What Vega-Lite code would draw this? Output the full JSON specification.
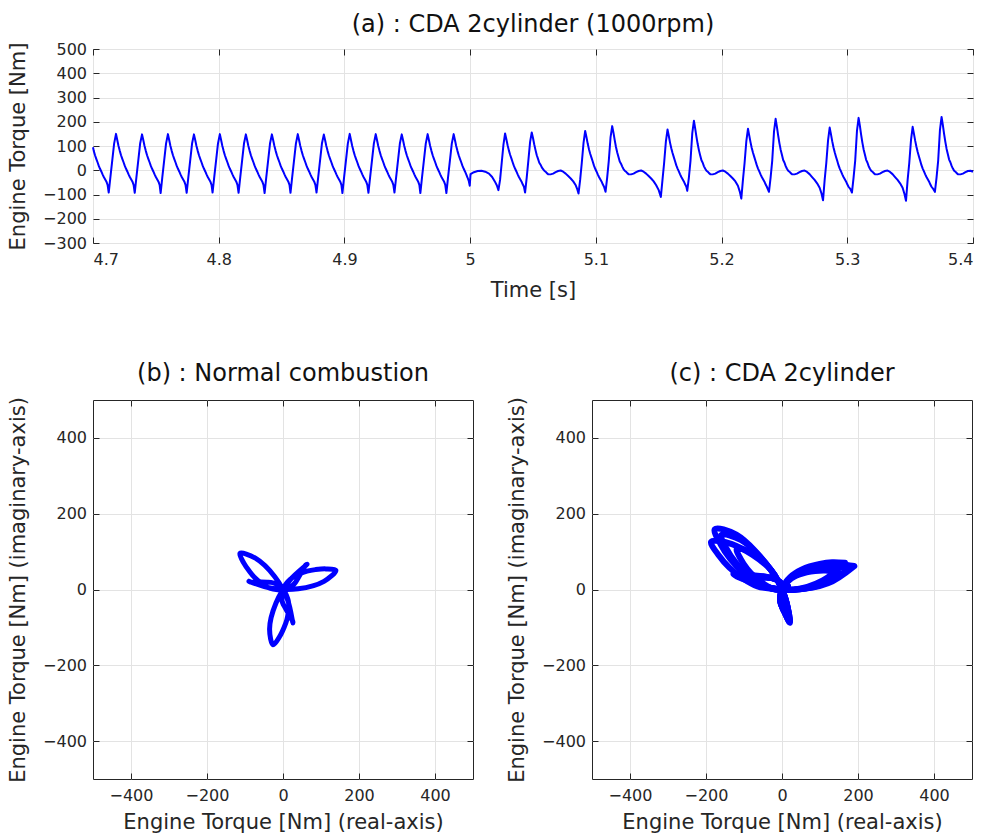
{
"$schema": "https://vega.github.io/schema/vega-lite/v6.json",
"padding": {"left": 7, "top": 12, "right": 8, "bottom": 2},
"config": {
  "font": "DejaVu Sans",
  "view": {"stroke": "#262626", "strokeWidth": 1},
  "axis": {"domain": false, "grid": true, "gridColor": "#e3e3e3", "tickColor": "#262626", "tickSize": -6, "labelPadding": 12.5, "labelFontSize": 16, "labelColor": "#262626", "titleFontSize": 21, "titleFontWeight": "normal", "titleColor": "#262626"},
  "axisX": {"labelPadding": 14},
  "title": {"fontSize": 24, "fontWeight": "normal", "color": "#111111", "offset": 4},
  "line": {"color": "#0000ff"}
},
"datasets": {
"ts": [
{"t":4.7,"v":95},{"t":4.7006,"v":80},{"t":4.7016,"v":62},{"t":4.7026,"v":47},{"t":4.7036,"v":33},{"t":4.7046,"v":18},{"t":4.7056,"v":6},{"t":4.7066,"v":-5},{"t":4.7076,"v":-17},{"t":4.7086,"v":-28},{"t":4.7096,"v":-37},{"t":4.7106,"v":-46},{"t":4.7116,"v":-60},
{"t":4.7125,"v":-92},{"t":4.7138,"v":-30},{"t":4.7153,"v":40},{"t":4.7168,"v":110},{"t":4.7183,"v":150},{"t":4.7193,"v":125},{"t":4.7203,"v":100},{"t":4.7213,"v":80},{"t":4.7223,"v":62},{"t":4.7233,"v":47},{"t":4.7243,"v":33},{"t":4.7253,"v":18},{"t":4.7263,"v":6},{"t":4.7273,"v":-5},{"t":4.7283,"v":-17},{"t":4.7293,"v":-28},{"t":4.7303,"v":-37},{"t":4.7313,"v":-46},{"t":4.7323,"v":-60},
{"t":4.7332,"v":-93},{"t":4.7345,"v":-30},{"t":4.736,"v":40},{"t":4.7375,"v":110},{"t":4.739,"v":148},{"t":4.74,"v":125},{"t":4.741,"v":100},{"t":4.742,"v":80},{"t":4.743,"v":62},{"t":4.744,"v":47},{"t":4.745,"v":33},{"t":4.746,"v":18},{"t":4.747,"v":6},{"t":4.748,"v":-5},{"t":4.749,"v":-17},{"t":4.75,"v":-28},{"t":4.751,"v":-37},{"t":4.752,"v":-46},{"t":4.753,"v":-60},
{"t":4.7538,"v":-94},{"t":4.7551,"v":-30},{"t":4.7566,"v":40},{"t":4.7581,"v":110},{"t":4.7596,"v":149},{"t":4.7606,"v":125},{"t":4.7616,"v":100},{"t":4.7626,"v":80},{"t":4.7636,"v":62},{"t":4.7646,"v":47},{"t":4.7656,"v":33},{"t":4.7666,"v":18},{"t":4.7676,"v":6},{"t":4.7686,"v":-5},{"t":4.7696,"v":-17},{"t":4.7706,"v":-28},{"t":4.7716,"v":-37},{"t":4.7726,"v":-46},{"t":4.7736,"v":-60},
{"t":4.7745,"v":-93},{"t":4.7758,"v":-30},{"t":4.7773,"v":40},{"t":4.7788,"v":110},{"t":4.7803,"v":148},{"t":4.7813,"v":125},{"t":4.7823,"v":100},{"t":4.7833,"v":80},{"t":4.7843,"v":62},{"t":4.7853,"v":47},{"t":4.7863,"v":33},{"t":4.7873,"v":18},{"t":4.7883,"v":6},{"t":4.7893,"v":-5},{"t":4.7903,"v":-17},{"t":4.7913,"v":-28},{"t":4.7923,"v":-37},{"t":4.7933,"v":-46},{"t":4.7943,"v":-60},
{"t":4.7951,"v":-92},{"t":4.7964,"v":-30},{"t":4.7979,"v":40},{"t":4.7994,"v":110},{"t":4.8009,"v":149},{"t":4.8019,"v":125},{"t":4.8029,"v":100},{"t":4.8039,"v":80},{"t":4.8049,"v":62},{"t":4.8059,"v":47},{"t":4.8069,"v":33},{"t":4.8079,"v":18},{"t":4.8089,"v":6},{"t":4.8099,"v":-5},{"t":4.8109,"v":-17},{"t":4.8119,"v":-28},{"t":4.8129,"v":-37},{"t":4.8139,"v":-46},{"t":4.8149,"v":-60},
{"t":4.8158,"v":-93},{"t":4.8171,"v":-30},{"t":4.8186,"v":40},{"t":4.8201,"v":110},{"t":4.8216,"v":148},{"t":4.8226,"v":125},{"t":4.8236,"v":100},{"t":4.8246,"v":80},{"t":4.8256,"v":62},{"t":4.8266,"v":47},{"t":4.8276,"v":33},{"t":4.8286,"v":18},{"t":4.8296,"v":6},{"t":4.8306,"v":-5},{"t":4.8316,"v":-17},{"t":4.8326,"v":-28},{"t":4.8336,"v":-37},{"t":4.8346,"v":-46},{"t":4.8356,"v":-60},
{"t":4.8365,"v":-94},{"t":4.8378,"v":-30},{"t":4.8393,"v":40},{"t":4.8408,"v":110},{"t":4.8423,"v":148},{"t":4.8433,"v":125},{"t":4.8443,"v":100},{"t":4.8453,"v":80},{"t":4.8463,"v":62},{"t":4.8473,"v":47},{"t":4.8483,"v":33},{"t":4.8493,"v":18},{"t":4.8503,"v":6},{"t":4.8513,"v":-5},{"t":4.8523,"v":-17},{"t":4.8533,"v":-28},{"t":4.8543,"v":-37},{"t":4.8553,"v":-46},{"t":4.8563,"v":-60},
{"t":4.8571,"v":-93},{"t":4.8584,"v":-30},{"t":4.8599,"v":40},{"t":4.8614,"v":110},{"t":4.8629,"v":149},{"t":4.8639,"v":125},{"t":4.8649,"v":100},{"t":4.8659,"v":80},{"t":4.8669,"v":62},{"t":4.8679,"v":47},{"t":4.8689,"v":33},{"t":4.8699,"v":18},{"t":4.8709,"v":6},{"t":4.8719,"v":-5},{"t":4.8729,"v":-17},{"t":4.8739,"v":-28},{"t":4.8749,"v":-37},{"t":4.8759,"v":-46},{"t":4.8769,"v":-60},
{"t":4.8778,"v":-92},{"t":4.8791,"v":-30},{"t":4.8806,"v":40},{"t":4.8821,"v":110},{"t":4.8836,"v":147},{"t":4.8846,"v":125},{"t":4.8856,"v":100},{"t":4.8866,"v":80},{"t":4.8876,"v":62},{"t":4.8886,"v":47},{"t":4.8896,"v":33},{"t":4.8906,"v":18},{"t":4.8916,"v":6},{"t":4.8926,"v":-5},{"t":4.8936,"v":-17},{"t":4.8946,"v":-28},{"t":4.8956,"v":-37},{"t":4.8966,"v":-46},{"t":4.8976,"v":-60},
{"t":4.8984,"v":-94},{"t":4.8997,"v":-30},{"t":4.9012,"v":40},{"t":4.9027,"v":110},{"t":4.9042,"v":150},{"t":4.9052,"v":125},{"t":4.9062,"v":100},{"t":4.9072,"v":80},{"t":4.9082,"v":62},{"t":4.9092,"v":47},{"t":4.9102,"v":33},{"t":4.9112,"v":18},{"t":4.9122,"v":6},{"t":4.9132,"v":-5},{"t":4.9142,"v":-17},{"t":4.9152,"v":-28},{"t":4.9162,"v":-37},{"t":4.9172,"v":-46},{"t":4.9182,"v":-60},
{"t":4.9191,"v":-93},{"t":4.9204,"v":-30},{"t":4.9219,"v":40},{"t":4.9234,"v":110},{"t":4.9249,"v":149},{"t":4.9259,"v":125},{"t":4.9269,"v":100},{"t":4.9279,"v":80},{"t":4.9289,"v":62},{"t":4.9299,"v":47},{"t":4.9309,"v":33},{"t":4.9319,"v":18},{"t":4.9329,"v":6},{"t":4.9339,"v":-5},{"t":4.9349,"v":-17},{"t":4.9359,"v":-28},{"t":4.9369,"v":-37},{"t":4.9379,"v":-46},{"t":4.9389,"v":-60},
{"t":4.9398,"v":-92},{"t":4.9411,"v":-30},{"t":4.9426,"v":40},{"t":4.9441,"v":110},{"t":4.9456,"v":148},{"t":4.9466,"v":125},{"t":4.9476,"v":100},{"t":4.9486,"v":80},{"t":4.9496,"v":62},{"t":4.9506,"v":47},{"t":4.9516,"v":33},{"t":4.9526,"v":18},{"t":4.9536,"v":6},{"t":4.9546,"v":-5},{"t":4.9556,"v":-17},{"t":4.9566,"v":-28},{"t":4.9576,"v":-37},{"t":4.9586,"v":-46},{"t":4.9596,"v":-60},
{"t":4.9604,"v":-94},{"t":4.9617,"v":-30},{"t":4.9632,"v":40},{"t":4.9647,"v":110},{"t":4.9662,"v":149},{"t":4.9672,"v":125},{"t":4.9682,"v":100},{"t":4.9692,"v":80},{"t":4.9702,"v":62},{"t":4.9712,"v":47},{"t":4.9722,"v":33},{"t":4.9732,"v":18},{"t":4.9742,"v":6},{"t":4.9752,"v":-5},{"t":4.9762,"v":-17},{"t":4.9772,"v":-28},{"t":4.9782,"v":-37},{"t":4.9792,"v":-46},{"t":4.9802,"v":-60},
{"t":4.9811,"v":-94},{"t":4.9824,"v":-30},{"t":4.9839,"v":40},{"t":4.9854,"v":110},{"t":4.9869,"v":149},{"t":4.9879,"v":125},{"t":4.9889,"v":100},{"t":4.9899,"v":80},{"t":4.9909,"v":62},{"t":4.9919,"v":47},{"t":4.9929,"v":33},{"t":4.9939,"v":18},{"t":4.9949,"v":6},{"t":4.9959,"v":-5},{"t":4.9969,"v":-17},{"t":4.9979,"v":-30},{"t":4.9989,"v":-44},{"t":4.9997,"v":-64},
{"t":5.0003,"v":-16},{"t":5.003,"v":-8},{"t":5.006,"v":-3},{"t":5.009,"v":-2},{"t":5.012,"v":-6},{"t":5.015,"v":-14},{"t":5.0175,"v":-28},{"t":5.0195,"v":-45},{"t":5.0212,"v":-62},{"t":5.0225,"v":-82},{"t":5.0238,"v":-40},{"t":5.0251,"v":30},{"t":5.0265,"v":106},
{"t":5.0278,"v":152},{"t":5.0288,"v":128},{"t":5.0298,"v":103},{"t":5.0308,"v":82},{"t":5.0318,"v":64},{"t":5.0328,"v":49},{"t":5.0338,"v":33},{"t":5.0348,"v":18},{"t":5.0358,"v":6},{"t":5.0368,"v":-5},{"t":5.0378,"v":-17},{"t":5.0388,"v":-28},{"t":5.0398,"v":-37},{"t":5.0408,"v":-46},{"t":5.0418,"v":-58},{"t":5.0428,"v":-68},{"t":5.0437,"v":-92},{"t":5.045,"v":-30},{"t":5.0463,"v":40},{"t":5.0477,"v":117},
{"t":5.049,"v":156},{"t":5.05,"v":133},{"t":5.051,"v":106},{"t":5.052,"v":83},{"t":5.053,"v":62},{"t":5.054,"v":47},{"t":5.055,"v":31},{"t":5.056,"v":23},{"t":5.057,"v":12},{"t":5.058,"v":5},{"t":5.059,"v":-2},{"t":5.06,"v":-6},{"t":5.061,"v":-12},{"t":5.062,"v":-16},{"t":5.064,"v":-17},{"t":5.066,"v":-14},{"t":5.068,"v":-8},{"t":5.07,"v":-3},{"t":5.072,"v":-1},{"t":5.074,"v":-6},{"t":5.076,"v":-14},{"t":5.078,"v":-24},{"t":5.08,"v":-34},{"t":5.082,"v":-46},{"t":5.084,"v":-62},{"t":5.0852,"v":-78},{"t":5.0862,"v":-96},{"t":5.0875,"v":-40},{"t":5.0888,"v":30},{"t":5.0902,"v":113},
{"t":5.0915,"v":162},{"t":5.0925,"v":137},{"t":5.0935,"v":110},{"t":5.0945,"v":87},{"t":5.0955,"v":68},{"t":5.0965,"v":52},{"t":5.0975,"v":36},{"t":5.0985,"v":19},{"t":5.0995,"v":6},{"t":5.1005,"v":-5},{"t":5.1015,"v":-17},{"t":5.1025,"v":-28},{"t":5.1035,"v":-37},{"t":5.1045,"v":-46},{"t":5.1055,"v":-58},{"t":5.1065,"v":-68},{"t":5.1077,"v":-89},{"t":5.109,"v":-30},{"t":5.1103,"v":40},{"t":5.1117,"v":137},
{"t":5.113,"v":182},{"t":5.114,"v":155},{"t":5.115,"v":124},{"t":5.116,"v":96},{"t":5.117,"v":73},{"t":5.118,"v":55},{"t":5.119,"v":36},{"t":5.12,"v":27},{"t":5.121,"v":15},{"t":5.122,"v":5},{"t":5.123,"v":-2},{"t":5.124,"v":-6},{"t":5.125,"v":-12},{"t":5.126,"v":-16},{"t":5.128,"v":-17},{"t":5.13,"v":-14},{"t":5.132,"v":-8},{"t":5.134,"v":-3},{"t":5.136,"v":-1},{"t":5.138,"v":-6},{"t":5.14,"v":-14},{"t":5.142,"v":-24},{"t":5.144,"v":-34},{"t":5.146,"v":-46},{"t":5.148,"v":-62},{"t":5.15,"v":-82},{"t":5.1517,"v":-110},{"t":5.153,"v":-40},{"t":5.1543,"v":30},{"t":5.1557,"v":118},
{"t":5.157,"v":168},{"t":5.158,"v":142},{"t":5.159,"v":114},{"t":5.16,"v":91},{"t":5.161,"v":71},{"t":5.162,"v":54},{"t":5.163,"v":37},{"t":5.164,"v":20},{"t":5.165,"v":7},{"t":5.166,"v":-5},{"t":5.167,"v":-17},{"t":5.168,"v":-28},{"t":5.169,"v":-37},{"t":5.17,"v":-46},{"t":5.171,"v":-58},{"t":5.172,"v":-68},{"t":5.1727,"v":-85},{"t":5.174,"v":-30},{"t":5.1753,"v":40},{"t":5.1767,"v":153},
{"t":5.178,"v":204},{"t":5.179,"v":173},{"t":5.18,"v":139},{"t":5.181,"v":108},{"t":5.182,"v":82},{"t":5.183,"v":61},{"t":5.184,"v":41},{"t":5.185,"v":31},{"t":5.186,"v":16},{"t":5.187,"v":6},{"t":5.188,"v":-2},{"t":5.189,"v":-6},{"t":5.19,"v":-12},{"t":5.191,"v":-16},{"t":5.193,"v":-17},{"t":5.195,"v":-14},{"t":5.197,"v":-8},{"t":5.199,"v":-3},{"t":5.201,"v":-1},{"t":5.203,"v":-6},{"t":5.205,"v":-14},{"t":5.207,"v":-24},{"t":5.209,"v":-34},{"t":5.211,"v":-46},{"t":5.213,"v":-64},{"t":5.2145,"v":-88},{"t":5.2157,"v":-117},{"t":5.217,"v":-40},{"t":5.2183,"v":30},{"t":5.2197,"v":120},
{"t":5.221,"v":171},{"t":5.222,"v":144},{"t":5.223,"v":116},{"t":5.224,"v":92},{"t":5.225,"v":72},{"t":5.226,"v":55},{"t":5.227,"v":38},{"t":5.228,"v":21},{"t":5.229,"v":7},{"t":5.23,"v":-5},{"t":5.231,"v":-17},{"t":5.232,"v":-28},{"t":5.233,"v":-37},{"t":5.234,"v":-46},{"t":5.235,"v":-58},{"t":5.236,"v":-68},{"t":5.2377,"v":-89},{"t":5.239,"v":-30},{"t":5.2403,"v":40},{"t":5.2417,"v":159},
{"t":5.243,"v":212},{"t":5.244,"v":180},{"t":5.245,"v":144},{"t":5.246,"v":112},{"t":5.247,"v":85},{"t":5.248,"v":64},{"t":5.249,"v":42},{"t":5.25,"v":32},{"t":5.251,"v":17},{"t":5.252,"v":6},{"t":5.253,"v":-2},{"t":5.254,"v":-6},{"t":5.255,"v":-12},{"t":5.256,"v":-16},{"t":5.258,"v":-17},{"t":5.26,"v":-14},{"t":5.262,"v":-8},{"t":5.264,"v":-3},{"t":5.266,"v":-1},{"t":5.268,"v":-7},{"t":5.27,"v":-16},{"t":5.272,"v":-28},{"t":5.274,"v":-40},{"t":5.276,"v":-54},{"t":5.278,"v":-72},{"t":5.2795,"v":-96},{"t":5.2807,"v":-124},{"t":5.282,"v":-40},{"t":5.2833,"v":30},{"t":5.2847,"v":123},
{"t":5.286,"v":176},{"t":5.287,"v":149},{"t":5.288,"v":120},{"t":5.289,"v":95},{"t":5.29,"v":74},{"t":5.291,"v":56},{"t":5.292,"v":39},{"t":5.293,"v":21},{"t":5.294,"v":7},{"t":5.295,"v":-5},{"t":5.296,"v":-17},{"t":5.297,"v":-28},{"t":5.298,"v":-37},{"t":5.299,"v":-46},{"t":5.3,"v":-58},{"t":5.301,"v":-68},{"t":5.3025,"v":-78},{"t":5.3037,"v":-92},{"t":5.305,"v":-30},{"t":5.3063,"v":40},{"t":5.3077,"v":162},
{"t":5.309,"v":216},{"t":5.31,"v":184},{"t":5.311,"v":147},{"t":5.312,"v":114},{"t":5.313,"v":86},{"t":5.314,"v":65},{"t":5.315,"v":43},{"t":5.316,"v":32},{"t":5.317,"v":17},{"t":5.318,"v":6},{"t":5.319,"v":-2},{"t":5.32,"v":-6},{"t":5.321,"v":-12},{"t":5.322,"v":-16},{"t":5.324,"v":-17},{"t":5.326,"v":-14},{"t":5.328,"v":-8},{"t":5.33,"v":-3},{"t":5.332,"v":-1},{"t":5.334,"v":-7},{"t":5.336,"v":-16},{"t":5.338,"v":-28},{"t":5.34,"v":-40},{"t":5.342,"v":-54},{"t":5.344,"v":-72},{"t":5.3455,"v":-98},{"t":5.3467,"v":-126},{"t":5.348,"v":-40},{"t":5.3493,"v":30},{"t":5.3507,"v":125},
{"t":5.352,"v":179},{"t":5.353,"v":151},{"t":5.354,"v":122},{"t":5.355,"v":97},{"t":5.356,"v":75},{"t":5.357,"v":57},{"t":5.358,"v":39},{"t":5.359,"v":21},{"t":5.36,"v":7},{"t":5.361,"v":-5},{"t":5.362,"v":-17},{"t":5.363,"v":-28},{"t":5.364,"v":-37},{"t":5.365,"v":-46},{"t":5.366,"v":-58},{"t":5.367,"v":-68},{"t":5.3685,"v":-78},{"t":5.3697,"v":-89},{"t":5.371,"v":-30},{"t":5.3723,"v":40},{"t":5.3737,"v":165},
{"t":5.375,"v":220},{"t":5.376,"v":187},{"t":5.377,"v":150},{"t":5.378,"v":117},{"t":5.379,"v":88},{"t":5.38,"v":66},{"t":5.381,"v":44},{"t":5.382,"v":33},{"t":5.383,"v":18},{"t":5.384,"v":7},{"t":5.385,"v":-2},{"t":5.386,"v":-6},{"t":5.387,"v":-12},{"t":5.388,"v":-16},{"t":5.39,"v":-17},{"t":5.392,"v":-14},{"t":5.394,"v":-8},{"t":5.396,"v":-3},{"t":5.398,"v":-2},{"t":5.4,"v":-6}
],
"b": [
{"i":1,"x":-89.4,"y":21.6},{"i":2,"x":-29.8,"y":3.2},{"i":3,"x":40.0,"y":1.8},{"i":4,"x":107.9,"y":21.6},{"i":5,"x":139.1,"y":50.6},{"i":6,"x":112.5,"y":54.4},{"i":7,"x":85.2,"y":52.4},{"i":8,"x":63.5,"y":48.6},{"i":9,"x":45.3,"y":42.4},{"i":10,"x":30.8,"y":35.5},{"i":11,"x":19.0,"y":27.0},{"i":12,"x":8.8,"y":15.7},{"i":13,"x":2.4,"y":5.5},{"i":14,"x":-1.5,"y":-4.8},{"i":15,"x":-3.5,"y":-16.6},{"i":16,"x":-3.0,"y":-27.8},{"i":17,"x":-0.3,"y":-37.0},{"i":18,"x":4.3,"y":-45.8},{"i":19,"x":11.6,"y":-58.9},{"i":20,"x":25.7,"y":-84.1},
{"i":21,"x":26.0,"y":-88.2},{"i":22,"x":12.1,"y":-27.4},{"i":23,"x":-21.6,"y":33.7},{"i":24,"x":-72.7,"y":82.6},{"i":25,"x":-113.4,"y":95.2},{"i":26,"x":-103.4,"y":70.2},{"i":27,"x":-88.0,"y":47.6},{"i":28,"x":-73.9,"y":30.7},{"i":29,"x":-59.4,"y":18.0},{"i":30,"x":-46.1,"y":8.9},{"i":31,"x":-32.9,"y":3.0},{"i":32,"x":-18.0,"y":-0.3},{"i":33,"x":-6.0,"y":-0.7},{"i":34,"x":4.9,"y":1.1},{"i":35,"x":16.1,"y":5.3},{"i":36,"x":25.6,"y":11.3},{"i":37,"x":32.2,"y":18.2},{"i":38,"x":37.5,"y":26.6},{"i":39,"x":45.2,"y":39.5},{"i":40,"x":60.0,"y":64.4},
{"i":41,"x":63.4,"y":66.6},{"i":42,"x":17.7,"y":24.2},{"i":43,"x":-18.4,"y":-35.5},{"i":44,"x":-35.3,"y":-104.2},{"i":45,"x":-25.8,"y":-145.8},{"i":46,"x":-9.2,"y":-124.6},{"i":47,"x":2.8,"y":-100.0},{"i":48,"x":10.3,"y":-79.3},{"i":49,"x":14.0,"y":-60.4},{"i":50,"x":15.3,"y":-44.5},{"i":51,"x":13.9,"y":-30.0},{"i":52,"x":9.2,"y":-15.5},{"i":53,"x":3.6,"y":-4.9},{"i":54,"x":-3.4,"y":3.7},{"i":55,"x":-12.6,"y":11.3},{"i":56,"x":-22.6,"y":16.5},{"i":57,"x":-31.9,"y":18.8},{"i":58,"x":-41.8,"y":19.2},{"i":59,"x":-56.8,"y":19.5},{"i":60,"x":-85.7,"y":19.8},{"i":61,"x":-89.4,"y":21.6}
],
"c": [
{"k":"m","i":1,"x":171.2,"y":55.6},{"k":"m","i":2,"x":137.5,"y":60.0},{"k":"m","i":3,"x":104.7,"y":58.7},{"k":"m","i":4,"x":77.9,"y":54.3},{"k":"m","i":5,"x":55.4,"y":47.5},{"k":"m","i":6,"x":38.1,"y":39.7},{"k":"m","i":7,"x":24.1,"y":30.7},{"k":"m","i":8,"x":12.4,"y":19.4},{"k":"m","i":9,"x":4.1,"y":8.0},{"k":"m","i":10,"x":-1.1,"y":-2.8},{"k":"m","i":11,"x":-4.3,"y":-15.4},{"k":"m","i":12,"x":-4.9,"y":-27.6},{"k":"m","i":13,"x":-2.9,"y":-37.9},{"k":"m","i":14,"x":1.1,"y":-48.0},{"k":"m","i":15,"x":7.6,"y":-61.6},{"k":"m","i":16,"x":19.2,"y":-85.9},{"k":"m","i":17,"x":7.2,"y":-18.7},{"k":"m","i":18,"x":-29.5,"y":52.2},{"k":"m","i":19,"x":-108.6,"y":130.7},{"k":"m","i":20,"x":-159.8,"y":143.9},{"k":"m","i":21,"x":-145.3,"y":106.4},{"k":"m","i":22,"x":-123.1,"y":72.8},{"k":"m","i":23,"x":-93.3,"y":41.2},{"k":"m","i":24,"x":-59.8,"y":16.5},{"k":"m","i":25,"x":-24.9,"y":1.8},{"k":"m","i":26,"x":0,"y":0},{"k":"m","i":27,"x":11.4,"y":3.8},{"k":"m","i":28,"x":15.6,"y":8.9},{"k":"m","i":29,"x":9.1,"y":7.9},{"k":"m","i":30,"x":1.8,"y":2.4},{"k":"m","i":31,"x":0,"y":0},{"k":"m","i":32,"x":0.5,"y":1.9},{"k":"m","i":33,"x":0.5,"y":8.0},{"k":"m","i":34,"x":-1.9,"y":14.9},{"k":"m","i":35,"x":-7.1,"y":20.8},{"k":"m","i":36,"x":-15,"y":26},{"k":"m","i":37,"x":-26.4,"y":30.0},{"k":"m","i":38,"x":-41.3,"y":31.6},{"k":"m","i":39,"x":-67.3,"y":33.2},{"k":"m","i":40,"x":-114.4,"y":36.5},{"k":"m","i":41,"x":-39.5,"y":6.4},{"k":"m","i":42,"x":30.0,"y":-0.4},{"k":"m","i":43,"x":109.0,"y":14.7},{"k":"m","i":44,"x":171.2,"y":55.6},
{"k":"h","i":1,"x":190.2,"y":61.8},{"k":"h","i":2,"x":152.8,"y":66.7},{"k":"h","i":3,"x":116.3,"y":65.2},{"k":"h","i":4,"x":86.5,"y":60.3},{"k":"h","i":5,"x":61.5,"y":52.8},{"k":"h","i":6,"x":42.3,"y":44.1},{"k":"h","i":7,"x":26.8,"y":34.1},{"k":"h","i":8,"x":13.8,"y":21.6},{"k":"h","i":9,"x":4.1,"y":8.0},{"k":"h","i":10,"x":-1.1,"y":-2.8},{"k":"h","i":11,"x":-4.3,"y":-15.4},{"k":"h","i":12,"x":-4.9,"y":-27.6},{"k":"h","i":13,"x":-2.9,"y":-37.9},{"k":"h","i":14,"x":1.1,"y":-48.0},{"k":"h","i":15,"x":7.6,"y":-61.6},{"k":"h","i":16,"x":21.0,"y":-88.0},{"k":"h","i":17,"x":7.2,"y":-18.7},{"k":"h","i":18,"x":-29.5,"y":52.2},{"k":"h","i":19,"x":-120.2,"y":144.7},{"k":"h","i":20,"x":-176.9,"y":159.3},{"k":"h","i":21,"x":-160.8,"y":117.8},{"k":"h","i":22,"x":-136.3,"y":80.6},{"k":"h","i":23,"x":-103.3,"y":45.6},{"k":"h","i":24,"x":-66.2,"y":18.3},{"k":"h","i":25,"x":-24.9,"y":1.8},{"k":"h","i":26,"x":0,"y":0},{"k":"h","i":27,"x":11.4,"y":3.8},{"k":"h","i":28,"x":15.6,"y":8.9},{"k":"h","i":29,"x":9.1,"y":7.9},{"k":"h","i":30,"x":1.8,"y":2.4},{"k":"h","i":31,"x":0,"y":0},{"k":"h","i":32,"x":0.5,"y":1.9},{"k":"h","i":33,"x":0.5,"y":8.0},{"k":"h","i":34,"x":-1.9,"y":14.9},{"k":"h","i":35,"x":-7.1,"y":20.8},{"k":"h","i":36,"x":-15,"y":26},{"k":"h","i":37,"x":-26.4,"y":30.0},{"k":"h","i":38,"x":-45.0,"y":34.5},{"k":"h","i":39,"x":-76.3,"y":37.6},{"k":"h","i":40,"x":-128.0,"y":40.5},{"k":"h","i":41,"x":-39.5,"y":6.4},{"k":"h","i":42,"x":30.0,"y":-0.4},{"k":"h","i":43,"x":121.1,"y":16.3},{"k":"h","i":44,"x":190.2,"y":61.8},
{"k":"l","i":1,"x":142.7,"y":46.3},{"k":"l","i":2,"x":114.6,"y":50.0},{"k":"l","i":3,"x":87.2,"y":48.9},{"k":"l","i":4,"x":64.9,"y":45.2},{"k":"l","i":5,"x":46.2,"y":39.6},{"k":"l","i":6,"x":31.7,"y":33.1},{"k":"l","i":7,"x":20.1,"y":25.6},{"k":"l","i":8,"x":10.3,"y":16.2},{"k":"l","i":9,"x":4.1,"y":8.0},{"k":"l","i":10,"x":-1.1,"y":-2.8},{"k":"l","i":11,"x":-4.3,"y":-15.4},{"k":"l","i":12,"x":-4.9,"y":-27.6},{"k":"l","i":13,"x":-2.9,"y":-37.9},{"k":"l","i":14,"x":1.1,"y":-48.0},{"k":"l","i":15,"x":7.6,"y":-61.6},{"k":"l","i":16,"x":18.5,"y":-82.0},{"k":"l","i":17,"x":7.2,"y":-18.7},{"k":"l","i":18,"x":-29.5,"y":52.2},{"k":"l","i":19,"x":-80.8,"y":97.2},{"k":"l","i":20,"x":-118.9,"y":107.1},{"k":"l","i":21,"x":-108.1,"y":79.2},{"k":"l","i":22,"x":-91.6,"y":54.2},{"k":"l","i":23,"x":-69.4,"y":30.7},{"k":"l","i":24,"x":-44.5,"y":12.3},{"k":"l","i":25,"x":-24.9,"y":1.8},{"k":"l","i":26,"x":0,"y":0},{"k":"l","i":27,"x":11.4,"y":3.8},{"k":"l","i":28,"x":15.6,"y":8.9},{"k":"l","i":29,"x":9.1,"y":7.9},{"k":"l","i":30,"x":1.8,"y":2.4},{"k":"l","i":31,"x":0,"y":0},{"k":"l","i":32,"x":0.5,"y":1.9},{"k":"l","i":33,"x":0.5,"y":8.0},{"k":"l","i":34,"x":-1.9,"y":14.9},{"k":"l","i":35,"x":-7.1,"y":20.8},{"k":"l","i":36,"x":-15,"y":26},{"k":"l","i":37,"x":-26.4,"y":30.0},{"k":"l","i":38,"x":-41.3,"y":31.6},{"k":"l","i":39,"x":-60.0,"y":29.6},{"k":"l","i":40,"x":-91.5,"y":29.2},{"k":"l","i":41,"x":-39.5,"y":6.4},{"k":"l","i":42,"x":30.0,"y":-0.4},{"k":"l","i":43,"x":90.8,"y":12.2},{"k":"l","i":44,"x":142.7,"y":46.3},
{"k":"w","i":1,"x":165.7,"y":70.3},{"k":"w","i":2,"x":131.7,"y":71.7},{"k":"w","i":3,"x":99.2,"y":67.6},{"k":"w","i":4,"x":72.9,"y":60.9},{"k":"w","i":5,"x":51.0,"y":52.1},{"k":"w","i":6,"x":34.5,"y":42.9},{"k":"w","i":7,"x":21.3,"y":32.7},{"k":"w","i":8,"x":10.7,"y":20.4},{"k":"w","i":9,"x":4.1,"y":8.0},{"k":"w","i":10,"x":-1.1,"y":-2.8},{"k":"w","i":11,"x":-4.3,"y":-15.4},{"k":"w","i":12,"x":-4.9,"y":-27.6},{"k":"w","i":13,"x":-2.9,"y":-37.9},{"k":"w","i":14,"x":1.1,"y":-48.0},{"k":"w","i":15,"x":7.6,"y":-61.6},{"k":"w","i":16,"x":20.0,"y":-84.0},{"k":"w","i":17,"x":7.2,"y":-18.7},{"k":"w","i":18,"x":-29.5,"y":52.2},{"k":"w","i":19,"x":-131.7,"y":119.8},{"k":"w","i":20,"x":-186.5,"y":125.8},{"k":"w","i":21,"x":-165.6,"y":88.9},{"k":"w","i":22,"x":-138.5,"y":57.6},{"k":"w","i":23,"x":-102.9,"y":29.1},{"k":"w","i":24,"x":-64.5,"y":8.4},{"k":"w","i":25,"x":-24.9,"y":1.8},{"k":"w","i":26,"x":0,"y":0},{"k":"w","i":27,"x":11.4,"y":3.8},{"k":"w","i":28,"x":15.6,"y":8.9},{"k":"w","i":29,"x":9.1,"y":7.9},{"k":"w","i":30,"x":1.8,"y":2.4},{"k":"w","i":31,"x":0,"y":0},{"k":"w","i":32,"x":0.5,"y":1.9},{"k":"w","i":33,"x":0.5,"y":8.0},{"k":"w","i":34,"x":-1.9,"y":14.9},{"k":"w","i":35,"x":-7.1,"y":20.8},{"k":"w","i":36,"x":-15,"y":26},{"k":"w","i":37,"x":-26.4,"y":30.0},{"k":"w","i":38,"x":-43.0,"y":33.0},{"k":"w","i":39,"x":-70.0,"y":35.0},{"k":"w","i":40,"x":-104.0,"y":33.0},{"k":"w","i":41,"x":-39.5,"y":6.4},{"k":"w","i":42,"x":30.0,"y":-0.4},{"k":"w","i":43,"x":107.3,"y":24.1},{"k":"w","i":44,"x":165.7,"y":70.3}
]
},
"vconcat": [
{
  "width": 880, "height": 194,
  "title": {"text": "(a) : CDA 2cylinder (1000rpm)"},
  "data": {"name": "ts"},
  "layer": [
    {"mark": {"type": "line", "strokeWidth": 2, "strokeJoin": "round"},
     "encoding": {
       "x": {"field": "t", "type": "quantitative", "scale": {"domain": [4.7, 5.4], "nice": false, "zero": false}, "axis": {"title": "Time [s]", "values": [4.7, 4.8, 4.9, 5.0, 5.1, 5.2, 5.3, 5.4], "format": "~g", "titlePadding": 12}},
       "y": {"field": "v", "type": "quantitative", "scale": {"domain": [-300, 500], "nice": false}, "axis": {"title": "Engine Torque [Nm]", "values": [-300, -200, -100, 0, 100, 200, 300, 400, 500], "titlePadding": 14}}
     }},
    {"mark": {"type": "line", "opacity": 0},
     "encoding": {
       "x": {"field": "t", "type": "quantitative", "axis": {"orient": "top", "labels": false, "title": null, "grid": false, "values": [4.7, 4.8, 4.9, 5.0, 5.1, 5.2, 5.3, 5.4]}},
       "y": {"field": "v", "type": "quantitative", "axis": {"orient": "right", "labels": false, "title": null, "grid": false, "values": [-300, -200, -100, 0, 100, 200, 300, 400, 500]}}
     }}
  ],
  "resolve": {"axis": {"x": "independent", "y": "independent"}}
},
{
  "hconcat": [
    {
      "width": 380, "height": 379,
      "title": {"text": "(b) : Normal combustion", "offset": 11},
      "data": {"name": "b"},
      "layer": [
        {"mark": {"type": "line", "strokeWidth": 5, "strokeJoin": "round", "strokeCap": "round", "interpolate": "catmull-rom"},
         "encoding": {
           "x": {"field": "x", "type": "quantitative", "scale": {"domain": [-500, 500], "nice": false}, "axis": {"title": "Engine Torque [Nm] (real-axis)", "values": [-400, -200, 0, 200, 400], "titlePadding": 8}},
           "y": {"field": "y", "type": "quantitative", "scale": {"domain": [-500, 500], "nice": false}, "axis": {"title": "Engine Torque [Nm] (imaginary-axis)", "values": [-400, -200, 0, 200, 400], "titlePadding": 14}},
           "order": {"field": "i", "type": "quantitative"}
         }},
        {"mark": {"type": "line", "opacity": 0},
         "encoding": {
           "x": {"field": "x", "type": "quantitative", "axis": {"orient": "top", "labels": false, "title": null, "grid": false, "values": [-400, -200, 0, 200, 400]}},
           "y": {"field": "y", "type": "quantitative", "axis": {"orient": "right", "labels": false, "title": null, "grid": false, "values": [-400, -200, 0, 200, 400]}},
           "order": {"field": "i", "type": "quantitative"}
         }}
      ],
      "resolve": {"axis": {"x": "independent", "y": "independent"}}
    },
    {
      "width": 380, "height": 379,
      "title": {"text": "(c) : CDA 2cylinder", "offset": 11},
      "data": {"name": "c"},
      "layer": [
        {"mark": {"type": "line", "strokeWidth": 6, "strokeJoin": "round", "strokeCap": "round", "interpolate": "catmull-rom"},
         "encoding": {
           "x": {"field": "x", "type": "quantitative", "scale": {"domain": [-500, 500], "nice": false}, "axis": {"title": "Engine Torque [Nm] (real-axis)", "values": [-400, -200, 0, 200, 400], "titlePadding": 8}},
           "y": {"field": "y", "type": "quantitative", "scale": {"domain": [-500, 500], "nice": false}, "axis": {"title": "Engine Torque [Nm] (imaginary-axis)", "values": [-400, -200, 0, 200, 400], "titlePadding": 14}},
           "detail": {"field": "k", "type": "nominal"},
           "order": {"field": "i", "type": "quantitative"}
         }},
        {"mark": {"type": "line", "opacity": 0},
         "encoding": {
           "x": {"field": "x", "type": "quantitative", "axis": {"orient": "top", "labels": false, "title": null, "grid": false, "values": [-400, -200, 0, 200, 400]}},
           "y": {"field": "y", "type": "quantitative", "axis": {"orient": "right", "labels": false, "title": null, "grid": false, "values": [-400, -200, 0, 200, 400]}},
           "detail": {"field": "k", "type": "nominal"},
           "order": {"field": "i", "type": "quantitative"}
         }}
      ],
      "resolve": {"axis": {"x": "independent", "y": "independent"}}
    }
  ],
  "spacing": 32
}
],
"spacing": 60
}
